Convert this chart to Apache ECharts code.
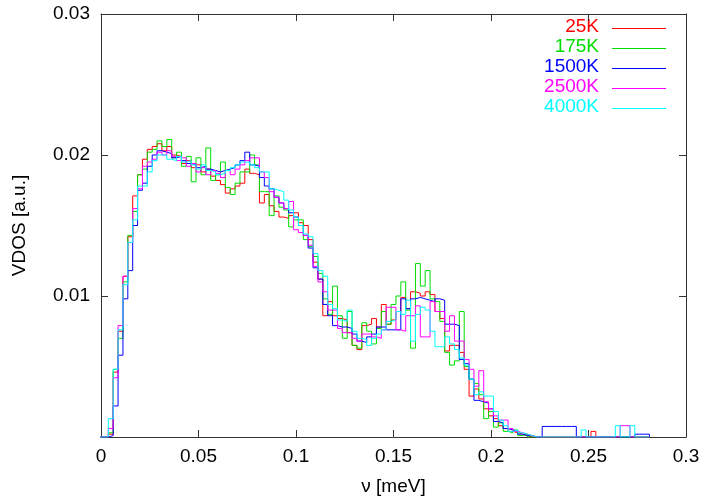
<!DOCTYPE html>
<html><head><meta charset="utf-8">
<script src="https://cdn.jsdelivr.net/npm/echarts@6/dist/echarts.min.js"></script>
<style>html,body{margin:0;padding:0;background:#fff}#c{width:705px;height:502px}</style>
</head><body><div id="c"></div>
<script>
// Histogram bins are centred on k * binWidth (meV); values in units of 1e-3 a.u.
const binWidth = 0.0025;
const seriesNames = ['25K', '175K', '1500K', '2500K', '4000K'];
const seriesColors = ['#ff0000', '#00dd00', '#0000ff', '#ff00ff', '#00ffff'];

const vdos25K = [
  0, 0, 0.2, 4.6, 7.5, 11.4, 14.2, 17.1, 18.6, 19.7,
  20.4, 20.6, 20.8, 20.3, 20.6, 20.0, 19.9, 19.4, 19.6, 19.1,
  19.3, 18.8, 19.0, 18.5, 18.2, 17.9, 17.3, 17.6, 17.8, 18.0,
  19.0, 18.7, 18.6, 16.6, 17.2, 16.4, 16.0, 15.6, 15.5, 15.7,
  15.9, 15.2, 15.0, 14.0, 12.4, 11.2, 8.6, 9.6, 8.6, 8.4,
  8.3, 7.4, 6.5, 6.2, 7.9, 8.0, 8.4, 7.8, 9.4, 8.0,
  8.3, 8.9, 9.9, 9.1, 10.3, 10.2, 10.0, 10.3, 10.1, 8.9,
  8.4, 6.1, 6.5, 6.5, 6.0, 4.8, 2.9, 3.4, 2.7, 2.0,
  1.5, 1.3, 0.8, 0.6, 0.4, 0.3, 0.2, 0.1, 0, 0,
  0, 0, 0, 0, 0, 0, 0, 0, 0, 0,
  0, 0.4, 0, 0, 0, 0, 0, 0, 0, 0,
  0, 0, 0
];
const vdos175K = [
  0, 0, 0.3, 4.8, 7.0, 11.0, 14.3, 16.0, 18.6, 19.0,
  20.2, 20.4, 21.0, 20.6, 21.1, 19.8, 20.2, 19.2, 19.9, 18.1,
  19.8, 18.6, 20.5, 18.2, 18.6, 19.5, 17.7, 17.2, 18.0, 18.8,
  18.8, 20.0, 19.3, 17.4, 17.4, 15.7, 17.1, 16.3, 16.1, 14.9,
  15.4, 15.4, 14.0, 13.5, 12.8, 11.6, 9.8, 8.7, 10.7, 8.6,
  7.0, 8.9, 6.5, 6.3, 8.1, 7.5, 6.6, 7.7, 8.9, 8.0,
  9.4, 10.0, 11.0, 9.0, 6.3, 12.3, 10.7, 11.8, 9.8, 9.6,
  8.2, 6.0, 5.1, 5.4, 8.9, 5.0, 4.1, 3.8, 3.0, 1.3,
  1.8, 0.7, 1.0, 0.4, 0.3, 0.5, 0.1, 0.2, 0, 0,
  0, 0, 0, 0, 0, 0, 0, 0, 0, 0,
  0, 0, 0, 0, 0, 0, 0, 0, 0, 0,
  0, 0, 0
];
const vdos1500K = [
  0, 0, 0.1, 2.2, 5.8, 9.8, 11.8, 15.0, 17.5, 18.0,
  19.2, 20.0, 20.3, 20.2, 20.1, 19.8, 19.9, 19.6, 19.4, 19.3,
  19.1, 19.2, 19.0, 18.9, 18.8, 18.9, 19.0, 19.1, 19.3, 19.6,
  20.2, 19.3, 19.2, 18.4, 17.8, 17.6, 17.0, 16.6, 16.2, 15.9,
  15.6, 15.0, 14.3, 13.4, 12.0, 11.2, 9.4, 8.6, 7.9, 7.8,
  7.8, 7.7, 7.3, 6.8, 6.7, 7.1, 7.3, 7.8, 7.8, 7.6,
  7.6, 7.6, 9.8, 9.1, 9.8, 9.9, 9.8, 9.7, 9.6, 9.8,
  9.7, 8.0, 8.0, 7.9, 5.5, 5.2, 4.1, 2.6, 2.5, 2.4,
  2.0, 1.1, 1.0, 0.6, 0.5, 0.4, 0.2, 0.1, 0.1, 0,
  0, 0.75, 0.75, 0.75, 0.75, 0.75, 0.75, 0.75, 0, 0,
  0, 0, 0, 0, 0, 0, 0, 0, 0, 0,
  0.2, 0.2, 0.2
];
const vdos2500K = [
  0, 0, 0.6, 4.2, 7.9, 11.4, 13.8, 16.2, 17.6, 19.2,
  19.5, 19.7, 20.2, 20.0, 20.3, 19.9, 19.6, 19.8, 19.2, 19.4,
  18.8, 19.1, 18.6, 18.9, 18.7, 18.4, 18.9, 18.6, 19.0, 19.3,
  19.6, 19.8, 19.8, 18.8, 18.4, 17.4, 17.0, 16.6, 16.2, 16.7,
  14.7, 14.5, 14.3, 13.6, 12.1, 11.0, 10.3, 9.0, 9.0, 7.7,
  7.4, 7.4, 7.0, 6.8, 7.3, 7.3, 7.1, 7.0, 7.6, 9.2,
  9.2, 7.6, 7.5, 8.6, 8.6, 9.3, 7.1, 7.1, 9.6, 8.9,
  8.9, 7.5, 8.6, 6.8, 6.8, 5.5, 4.8, 3.6, 4.7, 2.5,
  2.0, 1.5, 1.2, 1.2, 0.6, 0.4, 0.3, 0.2, 0.1, 0,
  0, 0, 0, 0, 0, 0, 0, 0, 0, 0,
  0, 0, 0, 0, 0, 0, 0, 0.8, 0.8, 0,
  0, 0, 0
];
const vdos4000K = [
  0, 0, 1.3, 4.8, 7.6, 10.8, 13.8, 15.4, 17.8, 17.8,
  18.8, 19.6, 20.0, 20.0, 19.7, 19.6, 19.9, 19.5, 19.6, 19.3,
  19.0, 19.3, 18.9, 18.8, 18.6, 18.7, 18.9, 19.1, 19.3, 19.5,
  19.5, 19.3, 19.1, 18.8, 18.8, 17.6, 17.5, 17.4, 16.8, 16.1,
  15.6, 15.0, 14.4, 14.2, 13.0, 11.8, 11.4, 9.4, 9.1, 8.3,
  8.2, 9.0, 7.5, 7.0, 6.9, 6.5, 7.0, 7.3, 7.6, 8.2,
  8.3, 8.9, 8.7, 9.7, 6.8, 8.7, 9.2, 9.0, 7.5, 6.4,
  6.4, 7.1, 6.6, 6.2, 5.6, 5.1, 4.1, 3.0, 3.2, 2.9,
  2.9, 1.8, 1.2, 0.8, 0.4, 0.5, 0.3, 0.2, 0.1, 0,
  0, 0, 0, 0, 0, 0, 0, 0, 0, 0.5,
  0, 0, 0, 0, 0, 0, 0.8, 0, 0, 0.8,
  0, 0, 0
];
const seriesValues = [vdos25K, vdos175K, vdos1500K, vdos2500K, vdos4000K];

const xTickLabels = ['0', '0.05', '0.1', '0.15', '0.2', '0.25', '0.3'];
const yTickLabels = ['', '0.01', '0.02', '0.03'];

const FONT = 'Liberation Sans, Arial, Helvetica, sans-serif';
const FS = 19;

function toSteps(vals) {
  const pts = vals.map((v, k) => [(k - 0.5) * binWidth, v]);
  pts.push([(vals.length - 0.5) * binWidth, 0]);
  return pts;
}

const axisLineStyle = { color: '#333', width: 1 };
const xCommon = {
  type: 'value', min: 0, max: 0.3, interval: 0.05,
  axisLine: { show: true, onZero: false, lineStyle: axisLineStyle },
  axisTick: { show: true, inside: true, length: 7, lineStyle: axisLineStyle },
  splitLine: { show: false }
};
const yCommon = {
  type: 'value', min: 0, max: 30, interval: 10,
  axisLine: { show: true, onZero: false, lineStyle: axisLineStyle },
  axisTick: { show: true, inside: true, length: 7, lineStyle: axisLineStyle },
  splitLine: { show: false }
};

const legendGraphics = [];
seriesNames.forEach((n, i) => {
  const y = 28 + 20 * i;
  legendGraphics.push({
    type: 'text', right: 705 - 599, top: y - 11,
    style: { text: n, fill: seriesColors[i], font: FS + 'px ' + FONT, textAlign: 'right' }
  });
  legendGraphics.push({
    type: 'line', shape: { x1: 612, y1: y + 0.5, x2: 666, y2: y + 0.5 },
    style: { stroke: seriesColors[i], lineWidth: 1 }
  });
});

const chart = echarts.init(document.getElementById('c'), null, { renderer: 'canvas' });
chart.setOption({
  animation: false,
  backgroundColor: '#fff',
  grid: { left: 101, right: 19, top: 14, bottom: 65 },
  xAxis: [
    Object.assign({}, xCommon, {
      position: 'bottom',
      axisLabel: {
        margin: 10, fontSize: FS, fontFamily: FONT, color: '#000',
        formatter: v => xTickLabels[Math.round(v / 0.05)]
      },
      name: 'ν [meV]', nameLocation: 'middle', nameGap: 40,
      nameTextStyle: { fontSize: FS, fontFamily: FONT, color: '#000' }
    }),
    Object.assign({}, xCommon, { position: 'top', axisLabel: { show: false } })
  ],
  yAxis: [
    Object.assign({}, yCommon, {
      position: 'left',
      axisLabel: {
        margin: 11, fontSize: FS, fontFamily: FONT, color: '#000',
        formatter: v => yTickLabels[Math.round(v / 10)]
      },
      name: 'VDOS [a.u.]', nameLocation: 'middle', nameGap: 72,
      nameTextStyle: { fontSize: FS, fontFamily: FONT, color: '#000' }
    }),
    Object.assign({}, yCommon, { position: 'right', axisLabel: { show: false } })
  ],
  series: seriesNames.map((n, i) => ({
    name: n, type: 'line', step: 'end', xAxisIndex: 0, yAxisIndex: 0,
    symbol: 'none', data: toSteps(seriesValues[i]),
    lineStyle: { color: seriesColors[i], width: 1 },
    itemStyle: { color: seriesColors[i] }, clip: true
  })),
  graphic: legendGraphics
});
</script>
</body></html>
